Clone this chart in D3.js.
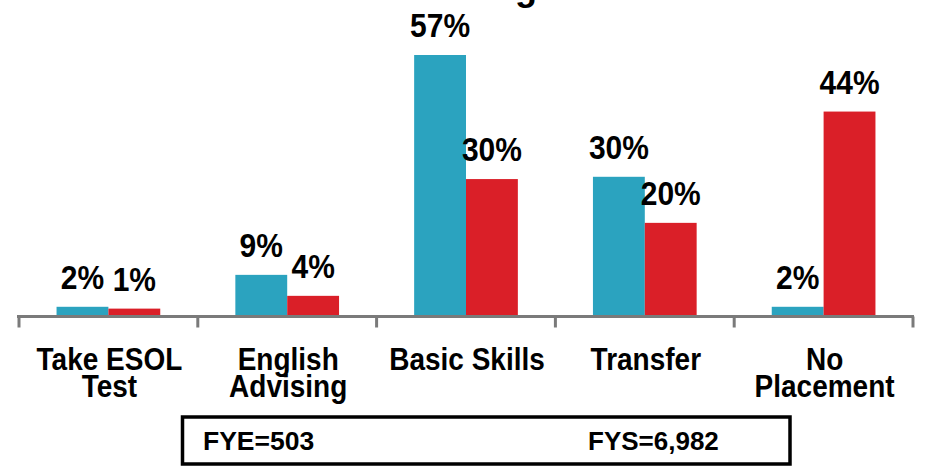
<!DOCTYPE html>
<html>
<head>
<meta charset="utf-8">
<script src="https://cdn.jsdelivr.net/npm/d3@7"></script>
<style>
  html, body { margin: 0; padding: 0; background: #fff; }
  svg { display: block; font-family: "Liberation Sans", Arial, sans-serif; font-weight: bold; }
</style>
</head>
<body>
<svg id="chart" width="930" height="467"></svg>
<script>
const categories = [["Take ESOL", "Test"], ["English", "Advising"], ["Basic Skills"], ["Transfer"], ["No", "Placement"]];
const seriesNames = ["FYE", "FYS"];
const fyeValues = [1.8, 8.8, 57, 30.3, 1.8];
const fysValues = [1.4, 4.2, 29.8, 20.2, 44.6];
const fyeLabels = ["2%", "9%", "57%", "30%", "2%"];
const fysLabels = ["1%", "4%", "30%", "20%", "44%"];
const boxLabels = ["FYE=503", "FYS=6,982"];
const titleText = "Testing";

const colors = { FYE: "#2BA3BF", FYS: "#DA1F28" };

const svg = d3.select("#chart");
const catKeys = categories.map(c => c.join(" "));

const x0 = d3.scaleBand().domain(catKeys).range([19, 913]).paddingInner(0.42).paddingOuter(0.21);
const x1 = d3.scaleBand().domain(seriesNames).range([0, x0.bandwidth()]).padding(0);
const y = d3.scaleLinear().domain([0, 57]).range([315, 55]);

// partially visible title (cut off at top, as in the reference)
svg.append("text")
  .attr("x", 537).attr("y", -0.5)
  .attr("text-anchor", "end")
  .style("font-size", "36px")
  .attr("fill", "#000")
  .text(titleText);

const rows = catKeys.map((k, i) => ({
  key: k,
  vals: [
    { s: "FYE", v: fyeValues[i], label: fyeLabels[i] },
    { s: "FYS", v: fysValues[i], label: fysLabels[i] }
  ]
}));

const groups = svg.selectAll("g.cat").data(rows).join("g")
  .attr("class", "cat")
  .attr("transform", d => `translate(${x0(d.key)},0)`);

groups.selectAll("rect").data(d => d.vals).join("rect")
  .attr("x", d => x1(d.s))
  .attr("width", x1.bandwidth())
  .attr("y", d => y(d.v))
  .attr("height", d => y(0) - y(d.v))
  .attr("fill", d => colors[d.s]);

groups.selectAll("text.val").data(d => d.vals).join("text")
  .attr("class", "val")
  .attr("text-anchor", "middle")
  .attr("transform", d => `translate(${x1(d.s) + x1.bandwidth() / 2},${y(d.v) - 18}) scale(1,1.1)`)
  .style("font-size", "30px")
  .attr("fill", "#000")
  .text(d => d.label);

// axis
const xAxis = d3.axisBottom(x0).tickSize(0).tickFormat("");
const axisG = svg.append("g").attr("transform", `translate(0,${y(0) + 1.5})`).call(xAxis);
axisG.select(".domain").attr("stroke", "#7a7a7a").attr("stroke-width", 3)
  .attr("d", `M17,0H914`);
axisG.selectAll(".tick").remove();

const bounds = [x0.range()[0]].concat(catKeys.map(k => x0(k) - x0.step() * x0.paddingInner() / 2).slice(1)).concat([x0.range()[1]]);
axisG.selectAll("line.sep").data(bounds).join("line")
  .attr("class", "sep")
  .attr("x1", d => d).attr("x2", d => d)
  .attr("y1", 0).attr("y2", 11)
  .attr("stroke", "#7a7a7a").attr("stroke-width", 3);

// category labels
categories.forEach((lines, i) => {
  const cx = x0(catKeys[i]) + x0.bandwidth() / 2 + 1;
  const t = svg.append("text")
    .attr("text-anchor", "middle")
    .attr("transform", `translate(${cx},370) scale(1,1.1)`)
    .style("font-size", "28px")
    .attr("fill", "#000");
  lines.forEach((ln, j) => {
    t.append("tspan").attr("x", 0).attr("y", j * 24.5).text(ln);
  });
});

// box with totals
svg.append("rect")
  .attr("x", 182.5).attr("y", 417).attr("width", 607.5).attr("height", 47)
  .attr("fill", "none").attr("stroke", "#000").attr("stroke-width", 3.5);
svg.append("text").attr("x", 203).attr("y", 450)
  .style("font-size", "26.5px").attr("fill", "#000").text(boxLabels[0]);
svg.append("text").attr("x", 588).attr("y", 450)
  .style("font-size", "26px").attr("fill", "#000").text(boxLabels[1]);
</script>
</body>
</html>
